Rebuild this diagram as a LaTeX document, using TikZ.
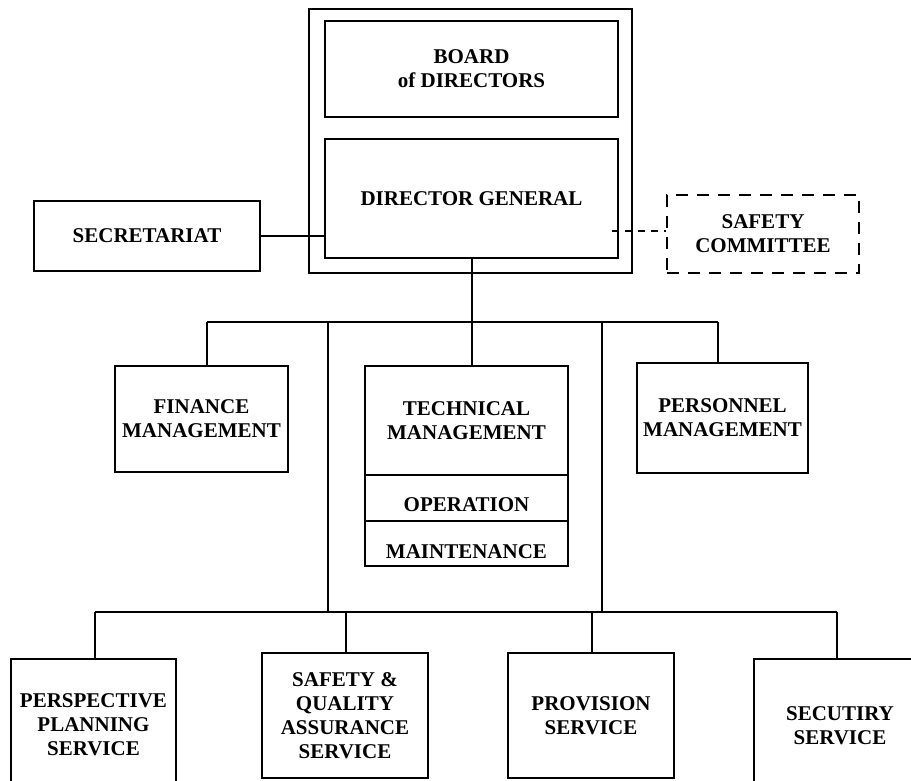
\documentclass[tikz,border=0pt]{standalone}
\usepackage{fontspec}
\setmainfont{Liberation Serif}
\begin{document}
\begin{tikzpicture}[x=1pt,y=-1pt,
  box/.style={draw, line width=1.3pt, rectangle, inner sep=0pt, align=center,
    font=\fontsize{21}{24}\selectfont\bfseries},
  txt/.style={inner sep=0pt, align=center, font=\fontsize{21}{24}\selectfont\bfseries},
  dashbox/.style={box, line width=2pt, dash pattern=on 12pt off 9pt},
  conn/.style={draw, line width=1.3pt},
  dconn/.style={draw, line width=1.6pt, dash pattern=on 7pt off 6pt}]
\useasboundingbox (0,0) rectangle (911,780);
\clip (0,0) rectangle (911,780);
\fill[white] (0,0) rectangle (911,780);

% top group
\node[box, minimum width=323pt, minimum height=264pt] (outer) at (470.5,141) {};
\node[box, minimum width=293pt, minimum height=96pt] (board) at (471.5,69) {BOARD\\of DIRECTORS};
\node[box, minimum width=293pt, minimum height=119pt] (dg) at (471.5,198.5) {DIRECTOR GENERAL};
\node[box, minimum width=226pt, minimum height=70pt] (sec) at (147,236) {SECRETARIAT};
\node[dashbox, minimum width=192pt, minimum height=78pt] (safety) at (763,234) {SAFETY\\COMMITTEE};

% middle level
\node[box, minimum width=173pt, minimum height=106pt] (fin) at (201.5,419) {FINANCE\\MANAGEMENT};
\node[box, minimum width=203pt, minimum height=109pt] (tech) at (466.5,420.5) {TECHNICAL\\MANAGEMENT};
\node[box, minimum width=203pt, minimum height=46pt] (op) at (466.5,498) {};
\node[txt] (opt) at (466.5,505) {OPERATION};
\node[box, minimum width=203pt, minimum height=45pt] (mnt) at (466.5,543.5) {};
\node[txt] (mntt) at (466.5,552) {MAINTENANCE};
\node[box, minimum width=171pt, minimum height=110pt] (pers) at (722.5,418) {PERSONNEL\\MANAGEMENT};

% bottom level
\node[box, minimum width=165pt, minimum height=132pt] (persp) at (93.5,725) {PERSPECTIVE\\PLANNING\\SERVICE};
\node[box, minimum width=166pt, minimum height=125pt] (sqa) at (345,715.5) {SAFETY \&\\QUALITY\\ASSURANCE\\SERVICE};
\node[box, minimum width=166pt, minimum height=125pt] (prov) at (591,715.5) {PROVISION\\SERVICE};
\node[box, minimum width=172pt, minimum height=133pt] (secu) at (840,725.5) {SECUTIRY\\SERVICE};

% connectors
\path[conn] (sec.east) -- (sec.east -| dg.west);
\coordinate (dsh) at (612,231);
\path[dconn] (dsh) -- (dsh -| safety.west);

\coordinate (j0) at (472,322);
\coordinate (jl) at (207,322);
\coordinate (jr) at (718,322);
\path[conn] (j0 |- dg.south) -- (j0);
\path[conn] (jl) -- (jr);
\path[conn] (jl) -- (jl |- fin.north);
\path[conn] (j0) -- (j0 |- tech.north);
\path[conn] (jr) -- (jr |- pers.north);

\coordinate (v1t) at (328,322);
\coordinate (v1b) at (328,612);
\coordinate (v2t) at (602,322);
\coordinate (v2b) at (602,612);
\path[conn] (v1t) -- (v1b);
\path[conn] (v2t) -- (v2b);

\coordinate (kl) at (95,612);
\coordinate (k2) at (346,612);
\coordinate (k3) at (592,612);
\coordinate (kr) at (837,612);
\path[conn] (kl) -- (kr);
\path[conn] (kl) -- (kl |- persp.north);
\path[conn] (k2) -- (k2 |- sqa.north);
\path[conn] (k3) -- (k3 |- prov.north);
\path[conn] (kr) -- (kr |- secu.north);
\end{tikzpicture}
\end{document}
